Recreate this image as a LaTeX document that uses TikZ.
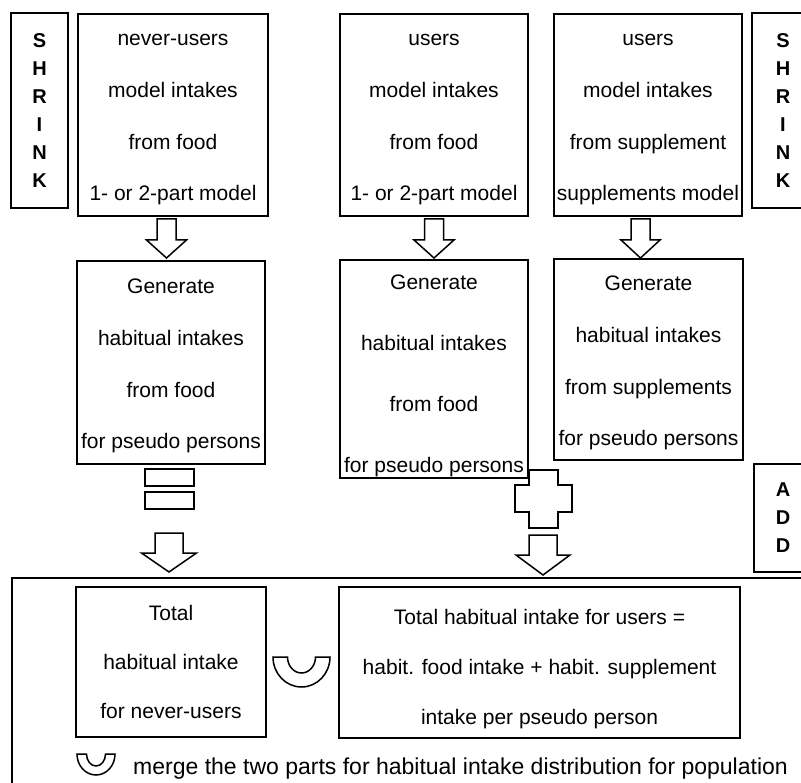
\documentclass[tikz,border=0pt]{standalone}
\usepackage{fontspec}
\setmainfont{Liberation Sans}
\newcommand\topgap[1]{\rule{0pt}{#1}}
\begin{document}
\begin{tikzpicture}[x=1pt,y=1pt,line join=miter]
\tikzset{
  box/.style={draw, line width=1.5pt, inner sep=0pt, align=center,
    font=\fontsize{21}{51.7}\selectfont},
  letters/.style={draw, line width=1.5pt, inner sep=0pt, align=center,
    font=\bfseries\fontsize{20}{28}\selectfont},
  shape line/.style={draw, line width=1.5pt, fill=white},
  pics/darrow/.style n args={4}{code={
    \draw[shape line] (-#1,0) -- (#1,0) -- (#1,-#3) -- (#2,-#3) -- (0,-#4)
      -- (-#2,-#3) -- (-#1,-#3) -- cycle;}}
}
\useasboundingbox (0,0) rectangle (801,-783);
\clip (0,0) rectangle (801,-783);

% shrink / add labels
\node[letters, minimum width=57, minimum height=195] (shrinkL) at (39.5,-110.5) {S\\H\\R\\I\\N\\K};
\node[letters, minimum width=62, minimum height=195] (shrinkR) at (783,-110.5) {S\\H\\R\\I\\N\\K};
\node[letters, minimum width=58, minimum height=108] (add) at (783,-518) {A\\D\\D};

% top row
\node[box, minimum width=190, minimum height=202] (nu) at (173,-115)
  {\topgap{21pt}never-users\\model intakes\\from food\\1- or 2-part model};
\node[box, minimum width=188, minimum height=202] (uf) at (434,-115)
  {\topgap{21pt}users\\model intakes\\from food\\1- or 2-part model};
\node[box, minimum width=188, minimum height=202] (us) at (648,-115)
  {\topgap{21pt}users\\model intakes\\from supplement\\supplements model};

% second row
\node[box, minimum width=188, minimum height=203] (gnu) at (171,-362.5)
  {\topgap{22pt}Generate\\habitual intakes\\from food\\for pseudo persons};
\node[box, minimum width=188, minimum height=218, font=\fontsize{21}{61}\selectfont] (guf) at (434,-369)
  {\topgap{29pt}Generate\\habitual intakes\\from food\\for pseudo persons};
\node[box, minimum width=189, minimum height=201] (gus) at (648.5,-359.5)
  {\topgap{22pt}Generate\\habitual intakes\\from supplements\\for pseudo persons};

% block arrows
\pic at (166.5,-219) {darrow={9.5}{20}{21}{39}};
\pic at (434,-219) {darrow={9.5}{20}{21}{39}};
\pic at (640.5,-219) {darrow={9.5}{19.5}{21}{39}};
\pic at (169,-533) {darrow={14}{27.5}{20}{39}};
\pic at (543,-535) {darrow={14}{27}{20}{40}};

% equals sign
\draw[shape line] (145,-469) rectangle (194,-486);
\draw[shape line] (145,-492) rectangle (194,-509);

% plus sign
\draw[shape line] (529,-470) -- (558,-470) -- (558,-485) -- (572,-485) -- (572,-512)
  -- (558,-512) -- (558,-528) -- (529,-528) -- (529,-512) -- (515,-512)
  -- (515,-485) -- (529,-485) -- cycle;

% big bottom frame
\draw[line width=1.5pt] (12,-800) -- (12,-578) -- (820,-578);

% bottom boxes
\node[box, minimum width=190, minimum height=150, font=\fontsize{21}{49}\selectfont] (tnu) at (171,-662)
  {Total\\habitual intake\\for never-users};
\node[box, minimum width=401, minimum height=151, font=\fontsize{21}{50}\selectfont] (tu) at (539.5,-662.5)
  {\topgap{28pt}Total habitual intake for users =\\habit. food intake + habit. supplement\\intake per pseudo person};

% merge symbols
\draw[shape line] (273,-657) -- (287.5,-657) arc(180:360:14 and 16) -- (330,-657)
  arc(0:-180:28.5 and 30) -- cycle;
\draw[shape line] (77,-754) -- (86.5,-754) arc(180:360:9.5 and 12) -- (115,-754)
  arc(0:-180:19 and 21) -- cycle;
\node[anchor=base west, inner sep=0pt, font=\fontsize{23}{27}\selectfont] (merge) at (133,-774)
  {merge the two parts for habitual intake distribution for population};
\end{tikzpicture}
\end{document}
